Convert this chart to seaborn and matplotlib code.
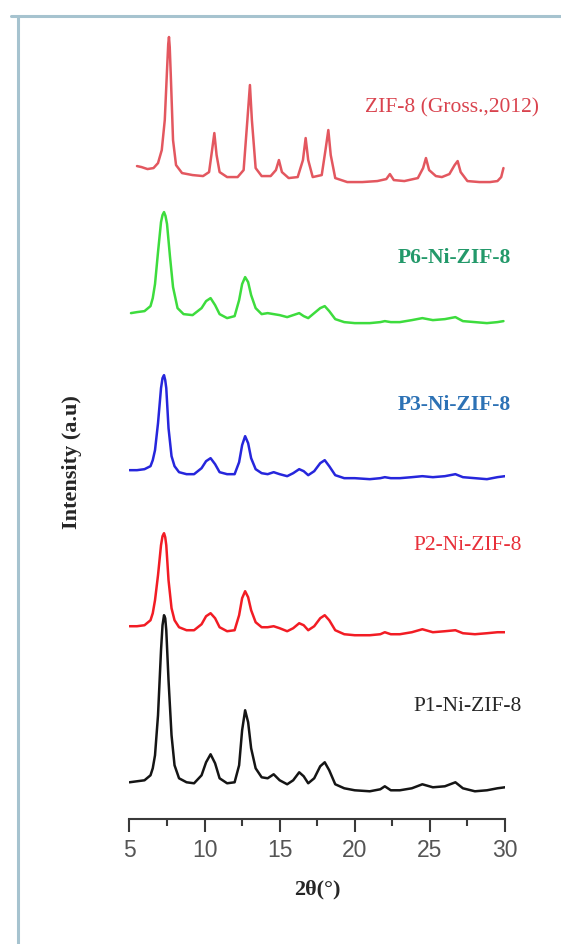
import numpy as np
import seaborn as sns
import matplotlib.pyplot as plt
from matplotlib.lines import Line2D
from matplotlib.ticker import MultipleLocator

# 2theta positions (deg) and intensities (a.u., above each curve's own baseline)
two_theta = [5.0, 5.5, 6.0, 6.4, 6.55, 6.7, 6.9, 7.1, 7.2, 7.3, 7.38, 7.45, 7.6, 7.8, 8.0, 8.3, 8.8, 9.3, 9.8,
             10.1, 10.4, 10.7, 11.0, 11.5, 12.0, 12.3, 12.5, 12.7, 12.9, 13.1, 13.4, 13.8, 14.2,
             14.6, 15.0, 15.5, 15.9, 16.3, 16.6, 16.9, 17.3, 17.7, 18.0, 18.3, 18.7, 19.3, 20.0,
             21.0, 21.7, 22.0, 22.4, 23.0, 23.8, 24.5, 25.2, 26.0, 26.7, 27.2, 28.0, 28.8, 29.5,
             30.0, 30.3]

p1_int = [8, 9, 10, 15, 22, 35, 75, 140, 165, 175, 172, 160, 110, 55, 25, 12, 8, 7, 15,
          28, 36, 27, 12, 7, 8, 25, 60, 80, 68, 42, 22, 13, 12,
          16, 10, 6, 10, 18, 14, 7, 12, 24, 28, 20, 6, 2, 0,
          -1, 1, 4, 0, 0, 2, 6, 3, 4, 8, 2, -1, 0, 2,
          3, 2]

p2_int = [7, 7, 8, 13, 20, 33, 58, 88, 97, 100, 96, 88, 53, 25, 13, 6, 3, 3, 9,
          17, 20, 15, 6, 2, 3, 18, 35, 42, 36, 23, 11, 6, 6,
          7, 5, 2, 5, 10, 8, 3, 7, 15, 18, 13, 3, -1, -2,
          -2, -1, 1, -1, -1, 1, 4, 1, 2, 3, 0, -1, 0, 1,
          1, 0]

p3_int = [8, 8, 9, 12, 18, 28, 55, 90, 100, 103, 98, 90, 50, 22, 12, 6, 4, 4, 10,
          17, 20, 14, 6, 4, 4, 16, 33, 42, 35, 20, 9, 5, 4,
          6, 4, 2, 5, 9, 7, 3, 7, 15, 18, 12, 3, 0, 0,
          -1, 0, 1, 0, 0, 1, 2, 1, 2, 4, 1, 0, -1, 1,
          2, 0]

p6_theta = [5.1, 5.5, 6.0, 6.4, 6.55, 6.7, 6.9, 7.1, 7.2, 7.3, 7.4, 7.5, 7.7, 7.9, 8.2, 8.6, 9.2, 9.8,
            10.1, 10.4, 10.7, 11.0, 11.5, 12.0, 12.3, 12.5, 12.7, 12.9, 13.1, 13.4, 13.8, 14.2,
            14.6, 15.0, 15.5, 15.9, 16.3, 16.6, 16.9, 17.3, 17.7, 18.0, 18.3, 18.7, 19.3, 20.0,
            21.0, 21.7, 22.0, 22.4, 23.0, 23.8, 24.5, 25.2, 26.0, 26.7, 27.2, 28.0, 28.8, 29.5,
            29.9]
p6_int = [9, 10, 11, 16, 24, 38, 70, 100, 107, 110, 106, 98, 65, 35, 14, 8, 7, 14,
          21, 24, 17, 8, 4, 6, 22, 38, 45, 40, 27, 14, 8, 9,
          8, 7, 5, 7, 9, 6, 4, 9, 14, 16, 11, 3, 0, -1,
          -1, 0, 1, 0, 0, 2, 4, 2, 3, 5, 1, 0, -1, 0,
          1]

zif8_theta = [5.5, 5.8, 6.2, 6.6, 6.9, 7.15, 7.35, 7.5, 7.58, 7.63, 7.68, 7.75, 7.9, 8.1, 8.5, 9.2, 9.9,
              10.3, 10.5, 10.65, 10.8, 11.0, 11.5, 12.2, 12.6, 12.85, 13.02, 13.15, 13.4, 13.8,
              14.4, 14.75, 14.95, 15.15, 15.6, 16.2, 16.55, 16.73, 16.9, 17.2, 17.8, 18.05, 18.24,
              18.4, 18.7, 19.5, 20.5, 21.5, 22.1, 22.34, 22.6, 23.3, 24.2, 24.55, 24.74, 24.95,
              25.4, 25.8, 26.3, 26.65, 26.85, 27.05, 27.5, 28.3, 29.0, 29.5, 29.75, 29.9]
zif8_int = [16, 15, 13, 14, 19, 32, 62, 112, 138, 145, 135, 107, 42, 17, 9, 7, 6,
            10, 32, 49, 27, 10, 5, 5, 12, 62, 97, 62, 14, 6,
            6, 12, 22, 10, 4, 5, 22, 44, 22, 5, 7, 32, 52,
            27, 4, 0, 0, 1, 3, 8, 2, 1, 4, 14, 24, 12,
            6, 5, 8, 17, 21, 10, 1, 0, 0, 1, 5, 14]

names = ["P1-Ni-ZIF-8", "P2-Ni-ZIF-8", "P3-Ni-ZIF-8", "P6-Ni-ZIF-8", "ZIF-8 (Gross.,2012)"]
offsets = [29, 186, 341, 497, 637]
line_colors = ["#151515", "#f21c24", "#2626dc", "#3ddc3d", "#e3575f"]
label_colors = ["#262626", "#e8303a", "#2d72b5", "#23996a", "#d9434e"]
label_x = [27.5, 27.5, 26.6, 26.6, 26.5]
label_y = [113, 274, 414, 561, 711]
label_bold = [False, False, True, True, False]

series = [(two_theta, p1_int), (two_theta, p2_int), (two_theta, p3_int),
          (p6_theta, p6_int), (zif8_theta, zif8_int)]

sns.set_style("white")
plt.rcParams['font.family'] = ['Liberation Serif', 'DejaVu Serif']

fig = plt.figure(figsize=(5.61, 9.44), dpi=100)
ax = fig.add_axes([0.2308, 0.1321, 0.6693, 0.8467])

for (xs, ys), off, c in zip(series, offsets, line_colors):
    sns.lineplot(x=xs, y=np.array(ys) + off, ax=ax, color=c, lw=1.8, sort=False)

for name, lx, ly, lc, b in zip(names, label_x, label_y, label_colors, label_bold):
    ax.text(lx, ly, name, color=lc, fontsize=15.5, ha='center', va='center',
            fontweight='bold' if b else 'normal')

ax.set_xlim(5, 30)
ax.set_ylim(0, 799)
for s in ['left', 'right', 'top']:
    ax.spines[s].set_visible(False)
ax.spines['bottom'].set_color('#3a3a3a')
ax.spines['bottom'].set_linewidth(1.5)
ax.set_yticks([])
ax.xaxis.set_major_locator(MultipleLocator(5))
ax.xaxis.set_minor_locator(MultipleLocator(2.5))
ax.tick_params(axis='x', which='major', direction='out', length=9, width=1.5,
               color='#3a3a3a', labelsize=16.5, labelcolor='#555555', pad=5, bottom=True)
ax.tick_params(axis='x', which='minor', direction='out', length=5, width=1.5,
               color='#3a3a3a', bottom=True)
for lab in ax.get_xticklabels():
    lab.set_family('Liberation Sans')

ax.set_xlabel("2θ(°)", fontsize=16, fontweight='bold', labelpad=13)
fig.text(72 / 561, 1 - 462 / 944, "Intensity (a.u)", rotation=90, fontsize=16,
         fontweight='bold', ha='center', va='center')

# light frame around the figure panel
fig.add_artist(Line2D([11 / 561, 1], [1 - 16 / 944] * 2, color='#a6c3cf', lw=2.2))
fig.add_artist(Line2D([18 / 561] * 2, [0, 1 - 16 / 944], color='#a6c3cf', lw=2.2))

fig.savefig("out.png", dpi=100)
